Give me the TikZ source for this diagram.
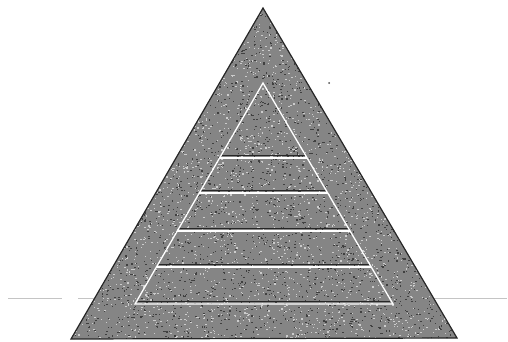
\documentclass[tikz,border=0pt]{standalone}
\usepackage{tikz}
\definecolor{stone}{HTML}{858585}
\definecolor{rim}{HTML}{262626}
\definecolor{rule}{HTML}{C4C4C4}

\begin{document}
\begin{tikzpicture}[x=1pt, y=-1pt,
    band/.style={draw=white, line width=1.3pt},
    shade/.style={draw=rim, line width=0.9pt}]
  \useasboundingbox (0,0) rectangle (508,341);
  % outer pyramid
  \coordinate (top) at (263,8);
  \coordinate (bl) at (71,339);
  \coordinate (br) at (457,338);
  % inner pyramid
  \coordinate (itop) at (263,83);
  \coordinate (ibl) at (135,304);
  \coordinate (ibr) at (393,304);

  % faint guide line behind
  \draw[rule, line width=0.6pt] (8,298) -- (62,298);
  \draw[rule, line width=0.6pt] (78,298) -- (95,298);
  \draw[rule, line width=0.6pt] (433,298) -- (507,298);

  \fill[stone] (top) -- (bl) -- (br) -- cycle;
  % speckle
  \begin{scope}
    \clip (top) -- (bl) -- (br) -- cycle;
    \pgfmathsetseed{7}
    \foreach \i in {1,...,3500} {
      \pgfmathsetmacro{\px}{70+rnd*388}
      \pgfmathsetmacro{\py}{8+rnd*332}
      \fill[white!80!black] (\px,\py) rectangle ++(1.4,1.1);
    }
    \foreach \i in {1,...,3500} {
      \pgfmathsetmacro{\px}{70+rnd*388}
      \pgfmathsetmacro{\py}{8+rnd*332}
      \fill[black!75] (\px,\py) rectangle ++(1.4,1.1);
    }
  \end{scope}
  \draw[rim, line width=1.2pt, line join=miter] (top) -- (bl) -- (br) -- cycle;

  % levels
  \foreach \y in {158,193,231,267} {
    \pgfmathsetmacro{\xl}{263-(\y-83)/221*128}
    \pgfmathsetmacro{\xr}{263+(\y-83)/221*130}
    \draw[shade] (\xl+2,\y-2.5) -- (\xr-2,\y-2.5);
    \draw[band] (\xl,\y) -- (\xr,\y);
  }
  \draw[shade] ([xshift=3pt,yshift=2.5pt]ibl) -- ([xshift=-3pt,yshift=2.5pt]ibr);
  \draw[band, line join=miter] (itop) -- (ibl) -- (ibr) -- cycle;

  % stray mark
  \fill[black!70] (329,83) circle (1pt);
\end{tikzpicture}
\end{document}
